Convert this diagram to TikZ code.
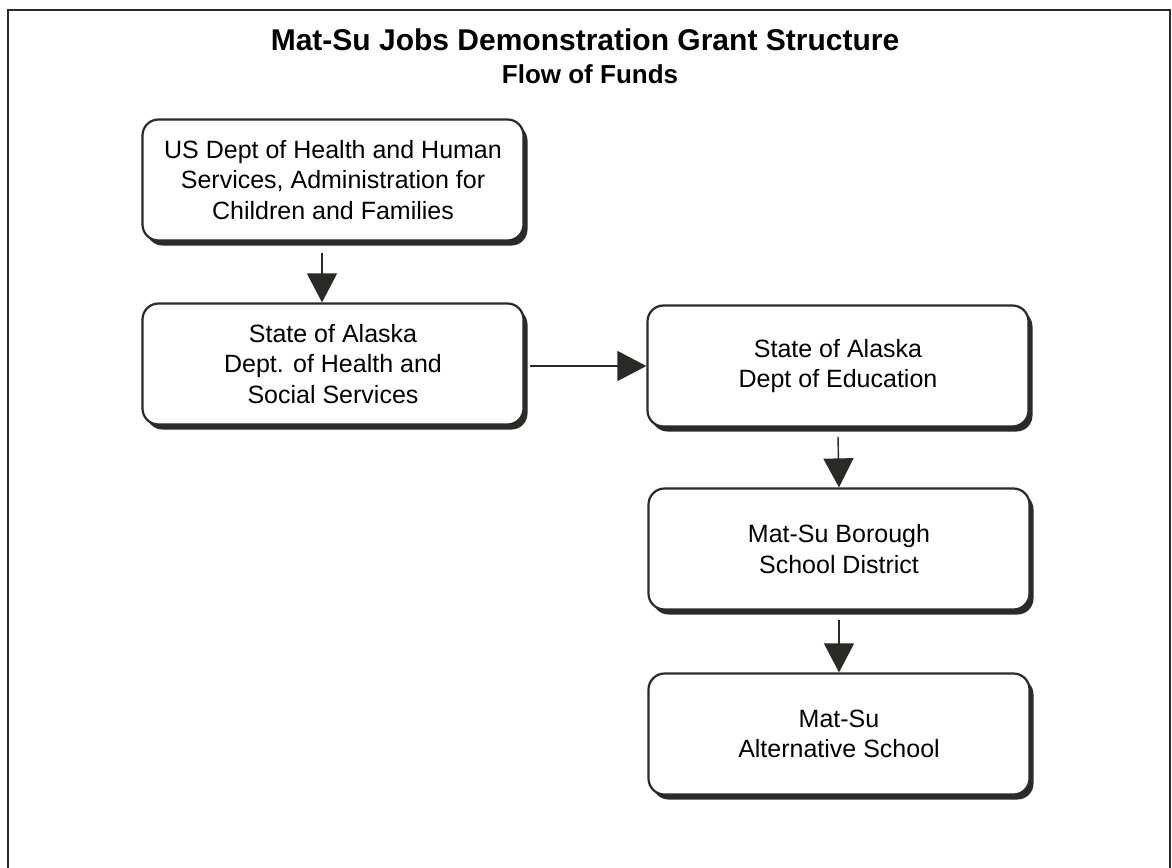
\documentclass[tikz,border=0pt]{standalone}
\usepackage{fontspec}
\setmainfont{Liberation Sans}
\usetikzlibrary{arrows.meta,shadows}
\definecolor{ink}{HTML}{2A2A26}
\begin{document}
\begin{tikzpicture}[x=1pt,y=-1pt,
  box/.style={draw=ink, line width=2.2pt, rounded corners=16pt, fill=white,
    minimum width=381pt, minimum height=121pt, align=center, inner sep=0pt,
    font=\fontsize{25}{30.5}\selectfont,
    drop shadow={shadow xshift=4pt, shadow yshift=-5pt, fill=ink, opacity=1}},
  flow/.style={draw=ink, line width=1.4pt, -{Triangle[width=30pt,length=29pt]}, color=ink}
]
\useasboundingbox (0,0) rectangle (1172,867);
\draw[ink, line width=2.2pt] (8,870) -- (8,10) -- (1170,10) -- (1170,870);

\node[font=\fontsize{30}{36}\selectfont\bfseries] (title) at (585,40) {Mat-Su Jobs Demonstration Grant Structure};
\node[font=\fontsize{26}{31}\selectfont\bfseries] (sub) at (590,74) {Flow of Funds};

\node[box] (b1) at (333,180) {US Dept of Health and Human\\Services, Administration for\\Children and Families};
\node[box] (b2) at (333,364) {State of Alaska\\Dept. of Health and\\Social Services};
\node[box] (b3) at (838,366) {State of Alaska\\Dept of Education};
\node[box] (b4) at (839,549) {Mat-Su Borough\\School District};
\node[box] (b5) at (839,734) {Mat-Su\\Alternative School};

\draw[flow] ([xshift=-11pt,yshift=-11pt]b1.south) -- ([xshift=-11pt]b2.north);
\draw[flow] ([xshift=5pt]b2.east |- b3.west) -- (b3.west);
\draw[flow] ([yshift=-9pt]b3.south) -- (b4.north);
\draw[flow] ([yshift=-9pt]b4.south) -- (b5.north);
\end{tikzpicture}
\end{document}
